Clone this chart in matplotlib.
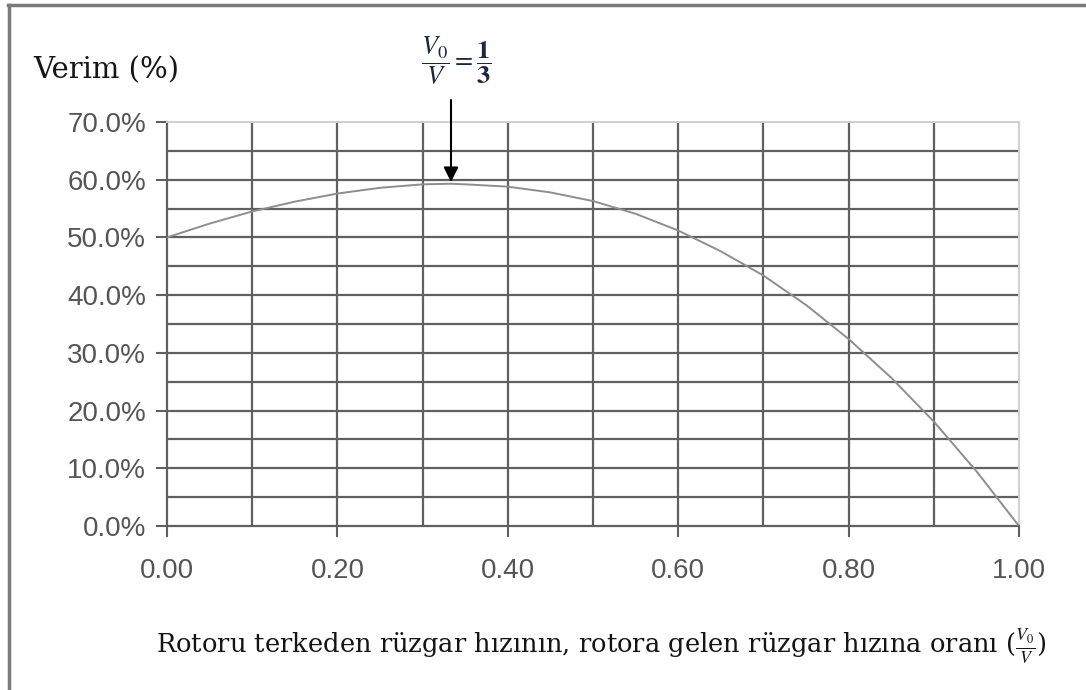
import numpy as np
import matplotlib
matplotlib.use("Agg")
import matplotlib.pyplot as plt
from matplotlib.lines import Line2D

# Values
ratio = [0.00, 0.05, 0.10, 0.15, 0.20, 0.25, 0.30, 0.333, 0.35, 0.40, 0.45,
         0.50, 0.55, 0.60, 0.65, 0.70, 0.75, 0.80, 0.85, 0.90, 0.95, 1.00]
efficiency = [50.0, 52.4, 54.5, 56.2, 57.6, 58.6, 59.2, 59.3, 59.2, 58.8, 57.8,
              56.3, 54.1, 51.2, 47.6, 43.4, 38.3, 32.4, 25.7, 18.1, 9.5, 0.0]

x_ticks = [0.0, 0.2, 0.4, 0.6, 0.8, 1.0]
x_tick_labels = ["0.00", "0.20", "0.40", "0.60", "0.80", "1.00"]
y_ticks = [0, 10, 20, 30, 40, 50, 60, 70]
y_tick_labels = ["%.1f%%" % v for v in y_ticks]
x_grid = [0.1, 0.2, 0.3, 0.4, 0.5, 0.6, 0.7, 0.8, 0.9]
y_grid = [5, 10, 15, 20, 25, 30, 35, 40, 45, 50, 55, 60, 65]
peak_x = 1 / 3
peak_y = 59.3

plt.rcParams["mathtext.fontset"] = "stix"

W, H = 1086, 690
fig = plt.figure(figsize=(W / 100, H / 100), dpi=100)
fig.patch.set_facecolor("white")

# Axes placed to match the reference pixel box
x0, x1, ytop, ybot = 167, 1019, 122, 526
ax = fig.add_axes([x0 / W, 1 - ybot / H, (x1 - x0) / W, (ybot - ytop) / H])

# Grid lines
grid_col = "#606060"
for gx in x_grid:
    ax.axvline(gx, color=grid_col, lw=1.6, zorder=1)
for gy in y_grid:
    ax.axhline(gy, color=grid_col, lw=1.6, zorder=1)

# Curve
ax.plot(ratio, efficiency, color="#8e8e8e", lw=1.4, zorder=3)

ax.set_xlim(0, 1)
ax.set_ylim(0, 70)
ax.set_xticks(x_ticks)
ax.set_xticklabels(x_tick_labels)
ax.set_yticks(y_ticks)
ax.set_yticklabels(y_tick_labels)
ax.tick_params(axis="both", direction="out", length=8, width=1.5,
               color=grid_col, labelsize=20, labelcolor="#555555")
ax.tick_params(axis="x", pad=15)
ax.tick_params(axis="y", pad=7)
for lab in ax.get_xticklabels() + ax.get_yticklabels():
    lab.set_family("Liberation Sans")

for side in ("left", "bottom"):
    ax.spines[side].set_color(grid_col)
    ax.spines[side].set_linewidth(1.6)
for side in ("top", "right"):
    ax.spines[side].set_color("#cfcfcf")
    ax.spines[side].set_linewidth(1.4)

# Arrow to the maximum
ax.annotate("", xy=(peak_x, peak_y + 0.3), xytext=(peak_x, 73.8),
            arrowprops=dict(arrowstyle="-|>", color="black", lw=1.5,
                            mutation_scale=22, shrinkA=0, shrinkB=0),
            annotation_clip=False, zorder=5)
ax.text(peak_x + 0.006, 80.6, r"$\dfrac{V_0}{V} = \dfrac{\mathbf{1}}{\mathbf{3}}$",
        fontsize=19, color="#1c2840", ha="center", va="center", clip_on=False)

# Axis titles
fig.text(33 / W, 1 - 70 / H, "Verim (%)", family="DejaVu Serif",
         fontsize=21, color="#151515", ha="left", va="center")
fig.text(601 / W, 1 - 646 / H,
         r"Rotoru terkeden rüzgar hızının, rotora gelen rüzgar hızına oranı ($\frac{V_0}{V}$)",
         family="DejaVu Serif", fontsize=18.5, color="#151515",
         ha="center", va="center")

# Frame lines of the original picture
fig.add_artist(Line2D([8 / W, 1], [1 - 5 / H, 1 - 5 / H], color="#7a7a7a", lw=2.5))
fig.add_artist(Line2D([9 / W, 9 / W], [0, 1 - 5 / H], color="#7a7a7a", lw=2.5))

fig.savefig("out.png", dpi=100)
